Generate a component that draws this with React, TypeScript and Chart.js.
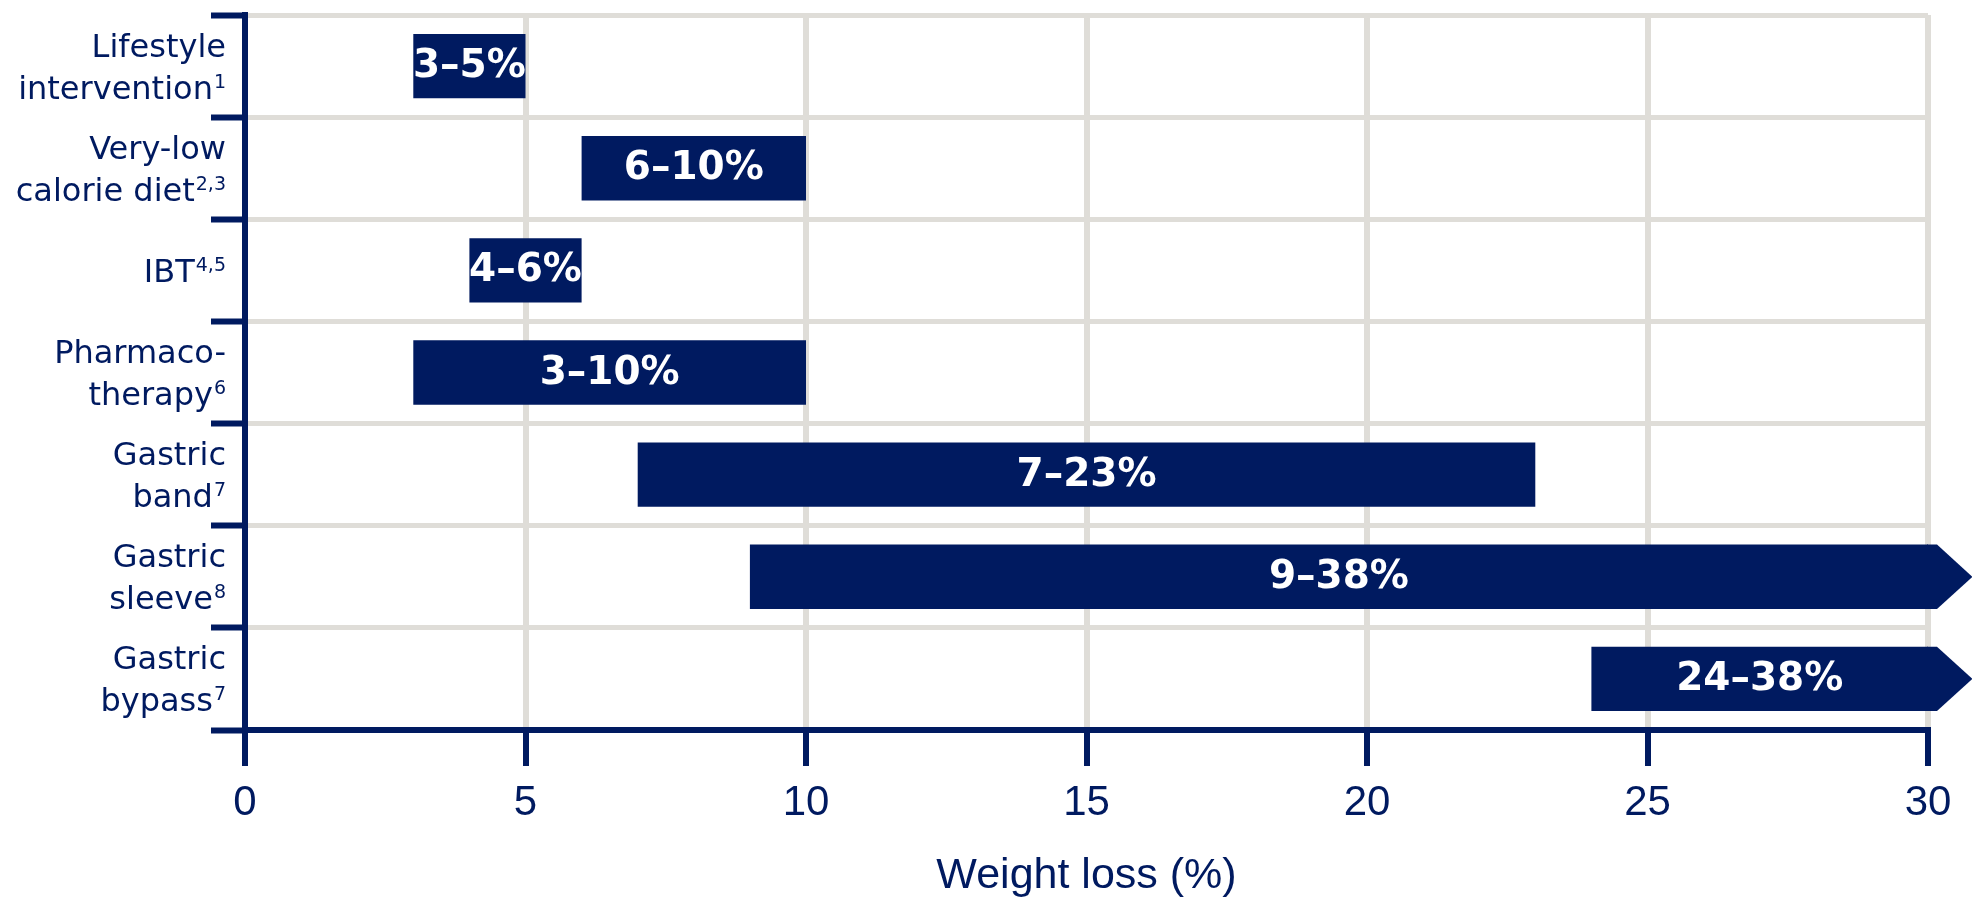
import React, { useEffect, useRef } from "react";
import { Chart, registerables } from "chart.js";

Chart.register(...registerables);

// Treatment categories (label lines) and their reference superscripts
const categoryLines: string[][] = [
  ["Lifestyle", "intervention"],
  ["Very-low", "calorie diet"],
  ["IBT"],
  ["Pharmaco-", "therapy"],
  ["Gastric", "band"],
  ["Gastric", "sleeve"],
  ["Gastric", "bypass"],
];
const references: string[] = ["1", "2,3", "4,5", "6", "7", "8", "7"];

// Weight-loss ranges (%) per treatment
const lowValues: number[] = [3, 6, 4, 3, 7, 9, 24];
const highValues: number[] = [5, 10, 6, 10, 23, 38, 38];

// Weight-loss axis
const xMin = 0;
const xMax = 30;
const xStep = 5;
const xTitle = "Weight loss (%)";

const NAVY = "#001a60";
const GRID = "#dfddd8";
const LABEL_FONT = "32px 'DejaVu Sans'";
const SUP_FONT = "19px 'DejaVu Sans'";
const BAR_FONT = "bold 39px 'DejaVu Sans'";

const rangeText = (i: number) => `${lowValues[i]}\u2013${highValues[i]}%`;

// Multi-line category labels with superscript reference numbers
const categoryLabelPlugin = {
  id: "categoryLabels",
  afterDraw(chart: any) {
    const { ctx } = chart;
    const yScale = chart.scales.y;
    const right = yScale.right - 19;
    const lineGap = 42;
    const capHeight = 23;
    ctx.save();
    ctx.fillStyle = NAVY;
    ctx.textAlign = "right";
    ctx.textBaseline = "alphabetic";
    categoryLines.forEach((lines, i) => {
      const cy = yScale.getPixelForValue(i);
      const firstBase = cy - ((lines.length - 1) * lineGap) / 2 + capHeight / 2;
      lines.forEach((line, j) => {
        const base = firstBase + j * lineGap;
        let x = right;
        if (j === lines.length - 1) {
          ctx.font = SUP_FONT;
          ctx.fillText(references[i], x, base - 11);
          x -= ctx.measureText(references[i]).width + 1;
        }
        ctx.font = LABEL_FONT;
        ctx.fillText(line, x, base);
      });
    });
    ctx.restore();
  },
};

// Arrow heads for ranges running past the axis, then the range labels
const barDecorPlugin = {
  id: "barDecor",
  afterDatasetsDraw(chart: any) {
    const { ctx, chartArea } = chart;
    const xScale = chart.scales.x;
    const meta = chart.getDatasetMeta(0);
    ctx.save();
    meta.data.forEach((bar: any, i: number) => {
      const half = bar.height / 2;
      if (highValues[i] > xMax) {
        const x0 = chartArea.right;
        const x1 = x0 + 9;
        const tip = x1 + half * 1.1;
        ctx.fillStyle = NAVY;
        ctx.beginPath();
        ctx.moveTo(x0 - 1, bar.y - half);
        ctx.lineTo(x1, bar.y - half);
        ctx.lineTo(tip, bar.y);
        ctx.lineTo(x1, bar.y + half);
        ctx.lineTo(x0 - 1, bar.y + half);
        ctx.closePath();
        ctx.fill();
      }
      const left = xScale.getPixelForValue(lowValues[i]);
      const rightEdge = xScale.getPixelForValue(Math.min(highValues[i], xMax));
      ctx.fillStyle = "#ffffff";
      ctx.font = BAR_FONT;
      ctx.textAlign = "center";
      ctx.textBaseline = "middle";
      ctx.fillText(rangeText(i), (left + rightEdge) / 2, bar.y + 1);
    });
    ctx.restore();
  },
};

export default function App() {
  const canvasRef = useRef<HTMLCanvasElement | null>(null);

  useEffect(() => {
    document.body.style.margin = "0";
    const canvas = canvasRef.current;
    if (!canvas) return;
    const chart = new Chart(canvas, {
      type: "bar",
      data: {
        labels: categoryLines.map((l) => l.join(" ")),
        datasets: [
          {
            data: lowValues.map((lo, i) => [lo, highValues[i]]) as any,
            backgroundColor: NAVY,
            borderWidth: 0,
            barPercentage: 0.63,
            categoryPercentage: 1,
            clip: 0 as any,
          },
        ],
      },
      options: {
        indexAxis: "y",
        responsive: false,
        animation: false,
        layout: { padding: { top: 15, right: 44, left: 0, bottom: 0 } },
        plugins: {
          legend: { display: false },
          tooltip: { enabled: false },
        },
        scales: {
          x: {
            type: "linear",
            min: xMin,
            max: xMax,
            ticks: {
              stepSize: xStep,
              color: NAVY,
              padding: 12,
              font: { family: "'Liberation Sans'", size: 42 },
            },
            grid: {
              color: GRID,
              lineWidth: 6,
              tickColor: NAVY,
              tickWidth: 6,
              tickLength: 36,
            },
            border: { color: NAVY, width: 6 },
            title: {
              display: true,
              text: xTitle,
              color: NAVY,
              padding: 0,
              font: { family: "'Liberation Sans'", size: 43, lineHeight: 1 },
            },
            afterFit: (s: any) => {
              s.height = 168;
            },
          },
          y: {
            type: "category",
            offset: true,
            ticks: { display: false },
            grid: {
              offset: true,
              color: GRID,
              lineWidth: 5,
              tickColor: NAVY,
              tickWidth: 6,
              tickLength: 34,
            },
            border: { color: NAVY, width: 6 },
            afterFit: (s: any) => {
              s.width = 245;
            },
          },
        },
      },
      plugins: [barDecorPlugin, categoryLabelPlugin],
    });
    return () => chart.destroy();
  }, []);

  return (
    <canvas
      ref={canvasRef}
      width={1972}
      height={898}
      style={{ display: "block", width: 1972, height: 898 }}
    />
  );
}
